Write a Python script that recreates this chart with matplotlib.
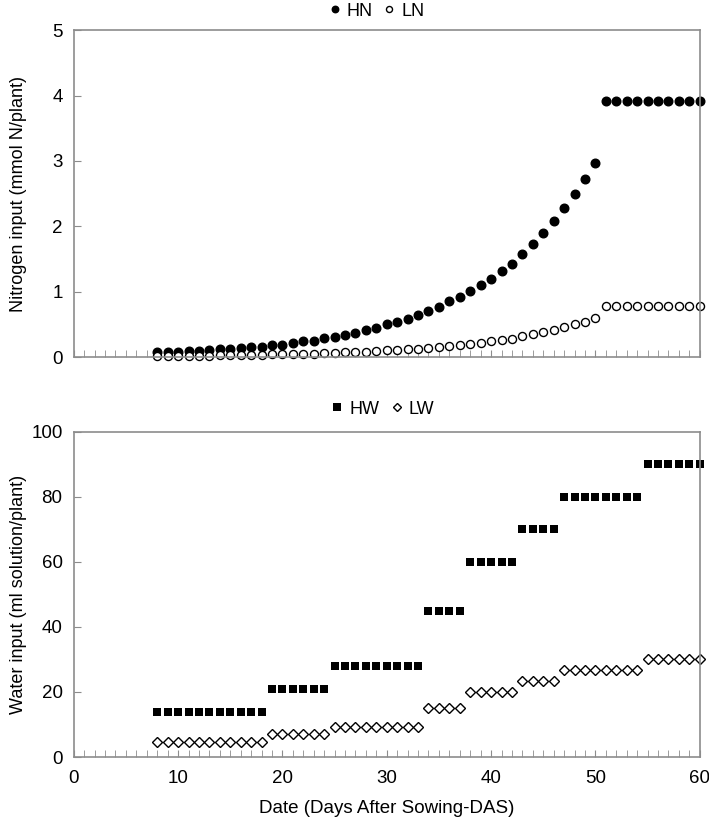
import matplotlib
matplotlib.use("Agg")
import matplotlib.pyplot as plt
from matplotlib.ticker import MultipleLocator

plt.rcParams['font.family'] = ['Liberation Sans', 'DejaVu Sans']

# Datos: días después de la siembra
days_n = list(range(8, 61))
hn = [0.08, 0.08, 0.08, 0.09, 0.09, 0.10, 0.12, 0.12, 0.14, 0.15, 0.16,
      0.18, 0.19, 0.21, 0.24, 0.25, 0.29, 0.31, 0.34, 0.37, 0.41, 0.45,
      0.50, 0.54, 0.58, 0.65, 0.70, 0.76, 0.86, 0.92, 1.01, 1.10, 1.20,
      1.32, 1.42, 1.58, 1.73, 1.90, 2.08, 2.28, 2.49, 2.72, 2.97,
      3.91, 3.91, 3.91, 3.91, 3.91, 3.91, 3.91, 3.91, 3.91, 3.91]
ln = [0.02, 0.02, 0.02, 0.02, 0.02, 0.02, 0.03, 0.03, 0.03, 0.03, 0.03,
      0.04, 0.04, 0.04, 0.05, 0.05, 0.06, 0.06, 0.07, 0.07, 0.08, 0.09,
      0.10, 0.11, 0.12, 0.13, 0.14, 0.15, 0.17, 0.18, 0.20, 0.22, 0.24,
      0.26, 0.28, 0.32, 0.35, 0.38, 0.42, 0.46, 0.50, 0.54, 0.59,
      0.78, 0.78, 0.78, 0.78, 0.78, 0.78, 0.78, 0.78, 0.78, 0.78]

days_w = list(range(8, 61))
hw = [14] * 11 + [21] * 6 + [28] * 9 + [45] * 4 + [60] * 5 + [70] * 4 + [80] * 8 + [90] * 6
lw = [4.7] * 11 + [7] * 6 + [9.3] * 9 + [15] * 4 + [20] * 5 + [23.3] * 4 + [26.7] * 8 + [30] * 6

fig = plt.figure(figsize=(7.09, 8.17), dpi=100)
ax1 = fig.add_axes([0.104, 0.563, 0.883, 0.400])
ax2 = fig.add_axes([0.104, 0.0734, 0.883, 0.398])

frame = '#8c8c8c'


def style(ax):
    ax.set_xlim(0, 60)
    for s in ax.spines.values():
        s.set_color(frame)
        s.set_linewidth(1.2)
    ax.xaxis.set_major_locator(MultipleLocator(10))
    ax.xaxis.set_minor_locator(MultipleLocator(1))
    ax.tick_params(axis='x', which='both', direction='in', length=5,
                   color=frame, labelsize=13.5, pad=9)
    ax.tick_params(axis='y', direction='in', length=5, color=frame,
                   labelsize=13.5, pad=8)
    ax.yaxis.set_label_coords(-0.074, 0.5)


# Panel de nitrógeno
ax1.plot(days_n, hn, 'o', color='black', markersize=6.2, clip_on=False, label='HN')
ax1.plot(days_n, ln, 'o', markerfacecolor='white', markeredgecolor='black',
         markeredgewidth=1.0, markersize=5.8, clip_on=False, label='LN')
style(ax1)
ax1.set_ylim(0, 5)
ax1.yaxis.set_major_locator(MultipleLocator(1))
ax1.tick_params(axis='x', labelbottom=False)
ax1.set_ylabel('Nitrogen input (mmol N/plant)', fontsize=13)
ax1.legend(loc='center', bbox_to_anchor=(0.48, 1.058), ncol=2,
           frameon=False, fontsize=13, handletextpad=0.05, columnspacing=0.3,
           markerscale=0.75, handlelength=1.2)

# Panel de agua
ax2.plot(days_w, hw, 's', color='black', markersize=6.4, markeredgewidth=0,
         clip_on=False, label='HW')
ax2.plot(days_w, lw, 'D', markerfacecolor='white', markeredgecolor='black',
         markeredgewidth=1.0, markersize=5.4, clip_on=False, label='LW')
style(ax2)
ax2.set_ylim(0, 100)
ax2.yaxis.set_major_locator(MultipleLocator(20))
ax2.set_ylabel('Water input (ml solution/plant)', fontsize=13)
ax2.set_xlabel('Date (Days After Sowing-DAS)', fontsize=13.5, labelpad=10)
ax2.legend(loc='center', bbox_to_anchor=(0.49, 1.07), ncol=2,
           frameon=False, fontsize=13, handletextpad=0.05, columnspacing=0.4,
           markerscale=0.8, handlelength=1.2)

fig.savefig('out.png', dpi=100)
